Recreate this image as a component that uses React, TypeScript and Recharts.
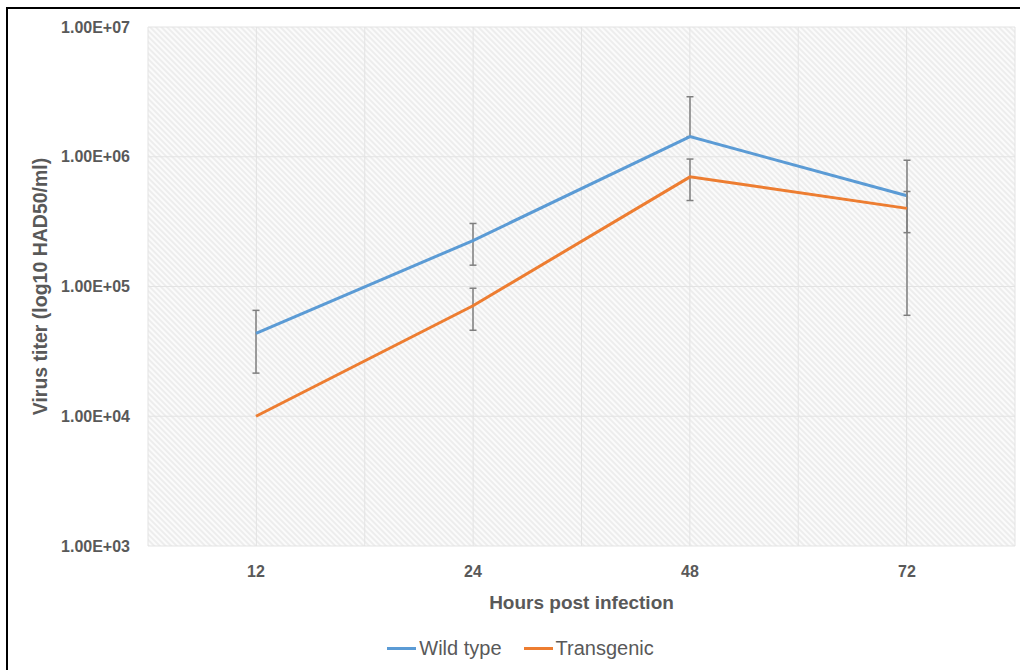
import { LineChart, Line, XAxis, YAxis, CartesianGrid, ErrorBar, Legend } from 'recharts';

const hours = ['12', '24', '48', '72'];
const wildType = [43500, 226000, 1430000, 500000];
const transgenic = [10000, 71000, 700000, 400000];
// [minus, plus] error (lower whisker of 48 h wild type is not drawn)
const wildErr: ([number, number] | null)[] = [[22000, 22000], [80000, 80000], [0, 1470000], [440000, 440000]];
const transErr: ([number, number] | null)[] = [null, [25000, 26000], [240000, 260000], [140000, 140000]];
const yTicks = [1e3, 1e4, 1e5, 1e6, 1e7];

const data = hours.map((h, i) => ({
  hours: h,
  wild: wildType[i],
  trans: transgenic[i],
  wildErr: wildErr[i],
  transErr: transErr[i],
}));

const FONT = '"Liberation Sans", Arial, sans-serif';
const TEXT = '#595959';
const BLUE = '#5B9BD5';
const ORANGE = '#ED7D31';

const sci = (v: number) => {
  const [m, e] = v.toExponential(2).split('e');
  const sign = e[0] === '-' ? '-' : '+';
  return `${m}E${sign}${e.replace(/[+-]/, '').padStart(2, '0')}`;
};

const YTitle = ({ viewBox }: any) => {
  const x = viewBox.x + 40;
  const y = viewBox.y + viewBox.height / 2;
  return (
    <text x={x} y={y} transform={`rotate(-90, ${x}, ${y})`} textAnchor="middle" dominantBaseline="central"
      fill={TEXT} fontSize={19.5} fontWeight="bold" fontFamily={FONT}>
      Virus titer (log10 HAD50/ml)
    </text>
  );
};

const LegendBox = () => (
  <div style={{ display: 'flex', justifyContent: 'center', alignItems: 'center', fontFamily: FONT, fontSize: 20, color: TEXT, height: 30, paddingLeft: 26 }}>
    {[{ c: BLUE, t: 'Wild type' }, { c: ORANGE, t: 'Transgenic' }].map(it => (
      <span key={it.t} style={{ display: 'flex', alignItems: 'center', margin: '0 11px' }}>
        <span style={{ display: 'inline-block', width: 29, height: 3, background: it.c, marginRight: 3 }} />
        {it.t}
      </span>
    ))}
  </div>
);

export default function App() {
  const gridX = ({ offset }: any) => {
    const pts: number[] = [];
    for (let i = 0; i <= hours.length * 2; i++) pts.push(offset.left + (offset.width * i) / (hours.length * 2));
    return pts;
  };
  return (
    <div style={{ position: 'absolute', left: 0, top: 0, width: 1020, height: 670, background: '#fff', overflow: 'hidden' }}>
      <svg width={0} height={0} style={{ position: 'absolute' }}>
        <defs>
          <pattern id="hatch" patternUnits="userSpaceOnUse" width={4} height={4} patternTransform="rotate(45)">
            <rect width={4} height={4} fill="#fbfbfb" />
            <line x1={0} y1={1} x2={4} y2={1} stroke="#e4e4e4" strokeWidth={1.2} />
          </pattern>
        </defs>
      </svg>
      <div style={{ position: 'absolute', left: 6, top: 7, width: 1020, height: 670, borderTop: '2px solid #000', borderLeft: '2px solid #000' }} />
      <div style={{ position: 'absolute', left: 0, top: 0 }}>
        <LineChart width={1020} height={670} data={data} margin={{ top: 27, right: 5, left: 0, bottom: 7 }}>
          <CartesianGrid fill="url(#hatch)" stroke="#e3e3e3" strokeWidth={1} verticalCoordinatesGenerator={gridX} />
          <XAxis dataKey="hours" height={87} axisLine={false} tickLine={false} padding={{ left: 108, right: 108 }}
            tickMargin={14} tick={{ fill: TEXT, fontSize: 16, fontWeight: 'bold', fontFamily: FONT }}
            label={{ value: 'Hours post infection', position: 'insideBottom', offset: 24, fill: TEXT, fontSize: 19, fontWeight: 'bold', fontFamily: FONT }} />
          <YAxis scale="log" domain={[1e3, 1e7]} ticks={yTicks} allowDataOverflow width={148} axisLine={false} tickLine={false}
            tickMargin={12} tickFormatter={sci} tick={{ fill: TEXT, fontSize: 16, fontWeight: 'bold', fontFamily: FONT }}
            label={<YTitle />} />
          <Legend verticalAlign="bottom" content={<LegendBox />} wrapperStyle={{ height: 30 }} />
          <Line dataKey="wild" name="Wild type" stroke={BLUE} strokeWidth={3} dot={false} isAnimationActive={false}>
            <ErrorBar dataKey="wildErr" direction="y" stroke="#7f7f7f" strokeWidth={1.5} width={3.5} isAnimationActive={false} />
          </Line>
          <Line dataKey="trans" name="Transgenic" stroke={ORANGE} strokeWidth={3} dot={false} isAnimationActive={false}>
            <ErrorBar dataKey="transErr" direction="y" stroke="#7f7f7f" strokeWidth={1.5} width={3.5} isAnimationActive={false} />
          </Line>
        </LineChart>
      </div>
    </div>
  );
}
